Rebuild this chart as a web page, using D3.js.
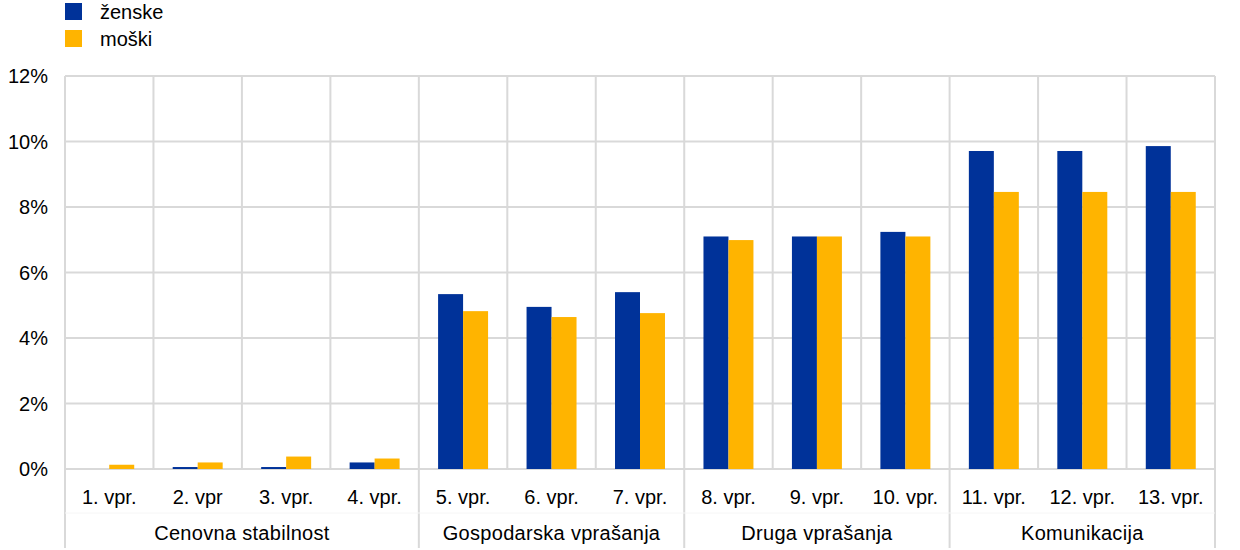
<!DOCTYPE html>
<html>
<head>
<meta charset="utf-8">
<script src="https://cdn.jsdelivr.net/npm/d3@7"></script>
<style>
html,body{margin:0;padding:0;background:#fff;}
svg{display:block;font-family:"Liberation Sans",Arial,sans-serif;}
</style>
</head>
<body>
<svg id="chart" width="1240" height="550"></svg>
<script>
const categories = ["1. vpr.","2. vpr","3. vpr.","4. vpr.","5. vpr.","6. vpr.","7. vpr.","8. vpr.","9. vpr.","10. vpr.","11. vpr.","12. vpr.","13. vpr."];
const groups = [
  {name:"Cenovna stabilnost", from:0, to:3},
  {name:"Gospodarska vprašanja", from:4, to:6},
  {name:"Druga vprašanja", from:7, to:9},
  {name:"Komunikacija", from:10, to:12}
];
const seriesNames = ["ženske","moški"];
const zenske = [0.0, 0.06, 0.06, 0.20, 5.34, 4.95, 5.40, 7.10, 7.10, 7.24, 9.71, 9.71, 9.86];
const moski  = [0.13, 0.20, 0.38, 0.32, 4.82, 4.64, 4.76, 6.99, 7.10, 7.10, 8.46, 8.46, 8.46];
const yTicks = [0, 2, 4, 6, 8, 10, 12];
const colors = ["#003299", "#FFB400"];

(function(){
const svg = d3.select("#chart");
const pLeft = 65, pRight = 1215, pTop = 76, pBottom = 469, axisBottom = 548, tickBottom = 470;
const fs = 20;

const x = d3.scaleBand().domain(d3.range(categories.length)).range([pLeft, pRight]).padding(0);
const xs = d3.scaleBand().domain([0,1]).range([0, x.bandwidth()]).paddingInner(0).paddingOuter(0.77);
const y = d3.scaleLinear().domain([0, 12]).range([pBottom, pTop]);

const grid = "#d9d9d9";

svg.append("g").selectAll("line").data(yTicks).join("line")
  .attr("x1", pLeft).attr("x2", pRight)
  .attr("y1", d => y(d)).attr("y2", d => y(d))
  .attr("stroke", grid).attr("stroke-width", 2);

svg.append("g").selectAll("line").data(d3.range(1, categories.length)).join("line")
  .attr("x1", d => x(d)).attr("x2", d => x(d))
  .attr("y1", pTop).attr("y2", d => groups.some(g => g.from === d) ? axisBottom : tickBottom)
  .attr("stroke", grid).attr("stroke-width", 2);

svg.append("g").selectAll("line").data([pLeft, pRight]).join("line")
  .attr("x1", d => d).attr("x2", d => d)
  .attr("y1", pTop).attr("y2", axisBottom)
  .attr("stroke", grid).attr("stroke-width", 2);

svg.append("line").attr("x1", pLeft).attr("x2", pRight).attr("y1", 513).attr("y2", 513)
  .attr("stroke", "#f6f6f6").attr("stroke-width", 1);

const data = categories.map((c, i) => [zenske[i], moski[i]]);
const gCat = svg.append("g").selectAll("g").data(data).join("g")
  .attr("transform", (d, i) => `translate(${x(i)},0)`);
gCat.selectAll("rect").data(d => d).join("rect")
  .attr("x", (d, j) => xs(j))
  .attr("width", xs.bandwidth())
  .attr("y", d => y(d))
  .attr("height", d => y(0) - y(d))
  .attr("fill", (d, j) => colors[j]);

svg.append("g").selectAll("text").data(yTicks).join("text")
  .attr("x", 48).attr("y", d => y(d)).attr("dy", "0.35em")
  .attr("text-anchor", "end").attr("font-size", fs).attr("fill", "#000")
  .text(d => d + "%");

svg.append("g").selectAll("text").data(categories).join("text")
  .attr("x", (d, i) => x(i) + x.bandwidth() / 2).attr("y", 497).attr("dy", "0.35em")
  .attr("text-anchor", "middle").attr("font-size", fs).attr("fill", "#000")
  .text(d => d);

svg.append("g").selectAll("text").data(groups).join("text")
  .attr("x", g => (x(g.from) + x(g.to) + x.bandwidth()) / 2).attr("y", 533).attr("dy", "0.35em")
  .attr("text-anchor", "middle").attr("font-size", fs).attr("fill", "#000")
  .attr("letter-spacing", 0.3)
  .text(g => g.name);

const lg = svg.append("g").selectAll("g").data(seriesNames).join("g")
  .attr("transform", (d, i) => `translate(65,${3 + i * 27})`);
lg.append("rect").attr("width", 17).attr("height", 17).attr("fill", (d, i) => colors[i]);
lg.append("text").attr("x", 35).attr("y", 8.5).attr("dy", "0.35em")
  .attr("font-size", fs).attr("fill", "#000").text(d => d);
})();
</script>
</body>
</html>
